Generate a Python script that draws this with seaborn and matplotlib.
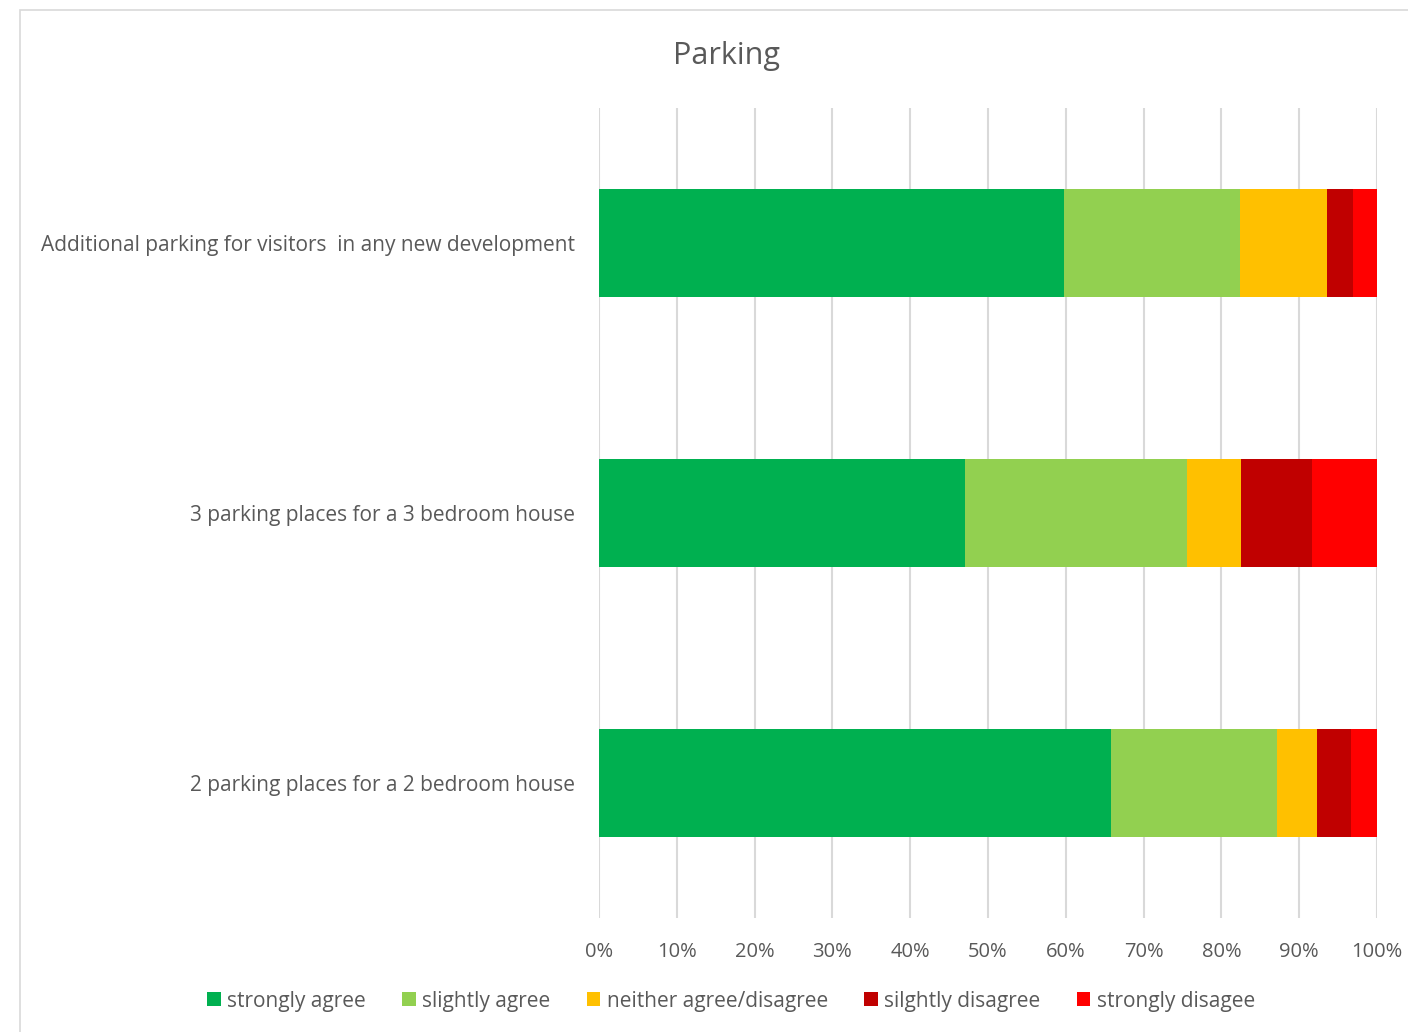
import numpy as np
import pandas as pd
import matplotlib
matplotlib.use("Agg")
import matplotlib.pyplot as plt
import seaborn as sns
from matplotlib.patches import Rectangle, Patch

questions = [
    "Additional parking for visitors  in any new development",
    "3 parking places for a 3 bedroom house",
    "2 parking places for a 2 bedroom house",
]
responses = ["strongly agree", "slightly agree", "neither agree/disagree",
             "silghtly disagree", "strongly disagee"]
strongly_agree = [59.8, 47.0, 65.8]
slightly_agree = [22.6, 28.6, 21.3]
neither = [11.2, 6.9, 5.2]
slightly_disagree = [3.3, 9.2, 4.4]
strongly_disagree = [3.1, 8.3, 3.3]
colors = ["#00B050", "#92D050", "#FFC000", "#C00000", "#FF0000"]

sns.set_style("white")
plt.rcParams["font.family"] = ["Open Sans", "DejaVu Sans"]
text_color = "#595959"

df = pd.DataFrame({"question": questions,
                   responses[0]: strongly_agree,
                   responses[1]: slightly_agree,
                   responses[2]: neither,
                   responses[3]: slightly_disagree,
                   responses[4]: strongly_disagree})
cum = df[responses].cumsum(axis=1)

fig = plt.figure(figsize=(14.08, 10.32), dpi=100)
fig.patches.append(Rectangle((20 / 1408, -0.1), 1.2, 1 - 10 / 1032 + 0.1,
                             transform=fig.transFigure, fill=False,
                             edgecolor="#d9d9d9", linewidth=1.2))
ax = fig.add_axes([599 / 1408, 1 - 918 / 1032, 778 / 1408, 810 / 1032])

# draw cumulative totals back to front so each segment shows
for resp, col in reversed(list(zip(responses, colors))):
    sns.barplot(x=cum[resp], y=df["question"], orient="h", color=col,
                width=0.397, ax=ax, saturation=1, linewidth=0, zorder=3)

ax.set_xlim(0, 100)
ax.set_ylim(2.5, -0.5)
ax.set_xticks(np.arange(0, 101, 10))
ax.set_xticklabels([f"{v}%" for v in range(0, 101, 10)])
ax.xaxis.grid(True, color="#d9d9d9", linewidth=1.5, zorder=0)
ax.set_axisbelow(True)
for s in ax.spines.values():
    s.set_visible(False)
ax.set_xlabel("")
ax.set_ylabel("")
ax.tick_params(axis="x", colors=text_color, labelsize=14.5, length=0, pad=17)
ax.tick_params(axis="y", colors=text_color, labelsize=15, length=0, pad=17)

fig.text(727 / 1408, 1 - 56 / 1032, "Parking", ha="center", va="center",
         fontsize=22, color=text_color)

handles = [Patch(facecolor=c, edgecolor="none") for c in colors]
fig.legend(handles, responses, loc="center", bbox_to_anchor=(731 / 1408, 1 - 1001 / 1032),
           ncol=5, frameon=False, fontsize=15, labelcolor=text_color,
           handlelength=0.65, handleheight=0.65, handletextpad=0.3, columnspacing=1.75)

fig.savefig("out.png", dpi=100, facecolor="white")
